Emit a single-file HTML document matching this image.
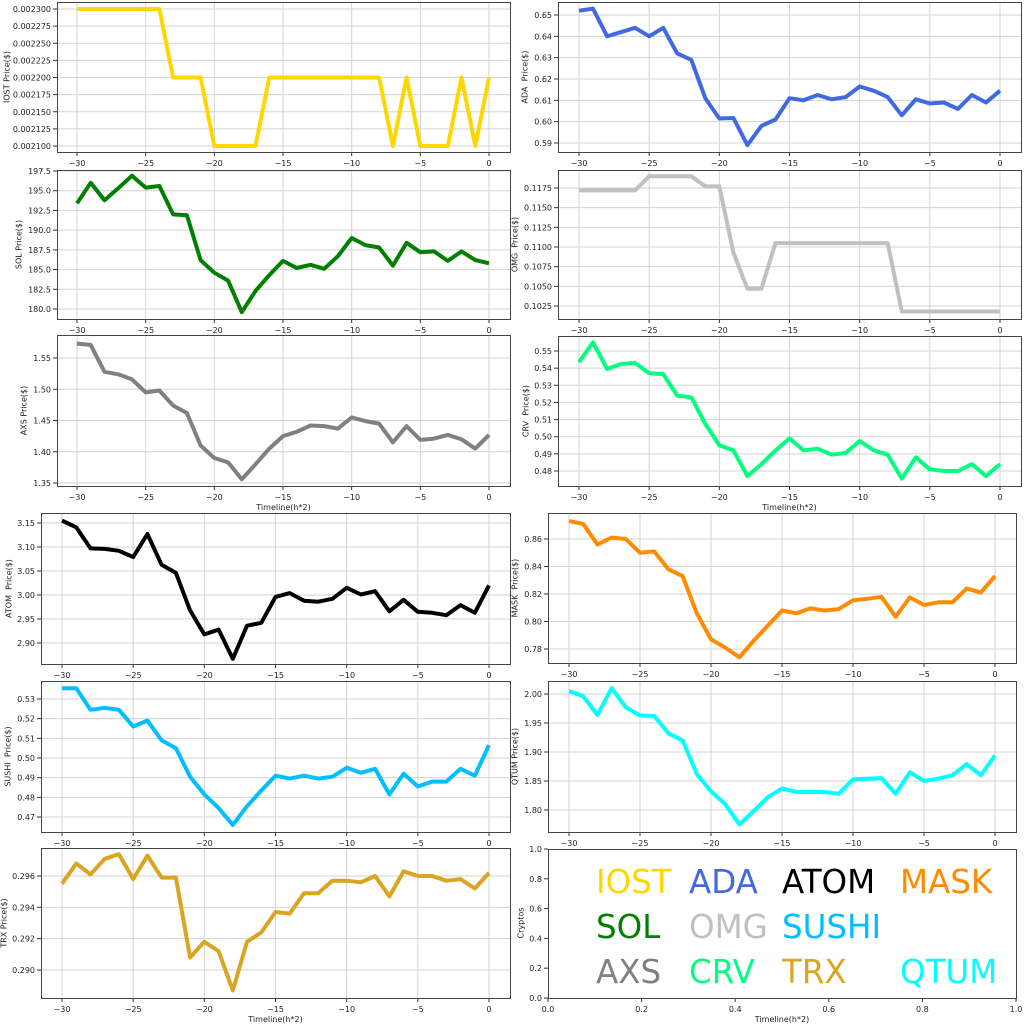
<!DOCTYPE html>
<html><head><meta charset="utf-8"><style>
html,body{margin:0;padding:0;background:#fff}
svg text{font-family:"DejaVu Sans","Liberation Sans",sans-serif;fill:#222}
</style></head><body>
<svg id="s" width="1024" height="1024" xmlns="http://www.w3.org/2000/svg"></svg>
<script>
const NS="http://www.w3.org/2000/svg";const S=document.getElementById('s');
const FS=8;
function el(t,a,txt){const e=document.createElementNS(NS,t);for(const k in a)e.setAttribute(k,a[k]);if(txt!==undefined)e.textContent=txt;S.appendChild(e);return e;}
const XL=["\u221230","\u221225","\u221220","\u221215","\u221210","\u22125","0"];
function rng(a,b,st,d){const r=[];for(let v=a;v<=b+st/100;v+=st)r.push([v,v.toFixed(d)]);return r;}
const P=[
{b:[57,2,510,152],xt:[77,489],ym:[0.0023,9,0.0021,146],yt:rng(0.0021,0.0023,0.000025,6),yl:"IOST Price($)",lx:7,c:"#FFD700",
d:[.0023,.0023,.0023,.0023,.0023,.0023,.0023,.0022,.0022,.0022,.0021,.0021,.0021,.0021,.0022,.0022,.0022,.0022,.0022,.0022,.0022,.0022,.0022,.0021,.0022,.0021,.0021,.0021,.0022,.0021,.0022]},
{b:[57,170,510,319],xt:[77,489],ym:[197.5,171,180,309],yt:rng(180,197.5,2.5,1),yl:"SOL Price($)",lx:19,c:"#008000",
d:[193.4,196.0,193.8,195.3,196.9,195.4,195.6,192.0,191.9,186.2,184.6,183.6,179.6,182.3,184.3,186.1,185.2,185.6,185.1,186.7,189.0,188.1,187.8,185.5,188.4,187.2,187.3,186.1,187.3,186.2,185.8]},
{b:[558,2,1021,152],xt:[579,1000],ym:[0.65,15,0.59,143],yt:rng(0.59,0.65,0.01,2),yl:"ADA  Price($)",lx:525,c:"#4169E1",
d:[.652,.653,.640,.642,.644,.640,.644,.632,.629,.611,.6015,.6017,.589,.598,.601,.611,.610,.6125,.6105,.6115,.6165,.6145,.6115,.603,.6105,.6085,.609,.606,.6125,.609,.6145]},
{b:[558,170,1021,319],xt:[579,1000],ym:[0.1175,188,0.1025,306],yt:rng(0.1025,0.1175,0.0025,4),yl:"OMG  Price($)",lx:515,c:"#C0C0C0",
d:[.1172,.1172,.1172,.1172,.1172,.1190,.1190,.1190,.1190,.1177,.1177,.1093,.1047,.1047,.1105,.1105,.1105,.1105,.1105,.1105,.1105,.1105,.1105,.1018,.1018,.1018,.1018,.1018,.1018,.1018,.1018]},
{b:[57,335,510,486],xt:[77,489],ym:[1.55,358,1.35,483],yt:rng(1.35,1.55,0.05,2),yl:"AXS Price($)",lx:24,c:"#808080",xlab:507,
d:[1.573,1.571,1.528,1.524,1.516,1.495,1.498,1.474,1.462,1.410,1.390,1.383,1.356,1.380,1.405,1.425,1.432,1.442,1.441,1.437,1.455,1.449,1.445,1.415,1.441,1.419,1.421,1.427,1.420,1.405,1.427]},
{b:[558,336,1021,486],xt:[579,1000],ym:[0.55,351,0.48,471],yt:rng(0.48,0.55,0.01,2),yl:"CRV  Price($)",lx:526,c:"#00FF7F",xlab:507,
d:[.5435,.555,.5395,.5425,.543,.537,.5365,.524,.523,.5075,.495,.492,.477,.484,.492,.499,.492,.493,.4895,.4905,.4975,.492,.4895,.4755,.488,.481,.480,.480,.484,.477,.484]},
{b:[41,513,510,664],xt:[62,489],ym:[3.15,523,2.90,643],yt:rng(2.90,3.15,0.05,2),yl:"ATOM  Price($)",lx:9,c:"#000000",
d:[3.155,3.141,3.097,3.096,3.092,3.079,3.127,3.063,3.046,2.968,2.918,2.928,2.867,2.936,2.942,2.996,3.004,2.988,2.986,2.992,3.015,3.001,3.008,2.966,2.990,2.965,2.963,2.958,2.979,2.963,3.020]},
{b:[548,513,1016,663],xt:[569,995],ym:[0.86,539,0.78,649],yt:rng(0.78,0.86,0.02,2),yl:"MASK  Price($)",lx:515,c:"#FF8C00",
d:[.873,.871,.856,.861,.860,.850,.851,.838,.833,.806,.787,.781,.774,.786,.797,.808,.806,.8095,.808,.809,.8155,.8165,.818,.8035,.8175,.812,.814,.814,.824,.821,.833]},
{b:[41,681,510,832],xt:[62,489],ym:[0.53,699,0.47,817],yt:rng(0.47,0.53,0.01,2),yl:"SUSHI  Price($)",lx:8,c:"#00BFFF",
d:[.5355,.5355,.5245,.5255,.5245,.516,.519,.509,.505,.4905,.4815,.4745,.466,.4755,.4835,.491,.4895,.491,.4895,.4905,.495,.4925,.4945,.4815,.492,.4855,.488,.488,.4945,.491,.5065]},
{b:[548,681,1016,832],xt:[569,995],ym:[2.00,694,1.80,810],yt:rng(1.80,2.00,0.05,2),yl:"QTUM Price($)",lx:515,c:"#00FFFF",
d:[2.005,1.996,1.964,2.010,1.977,1.963,1.962,1.932,1.920,1.862,1.832,1.810,1.775,1.798,1.822,1.837,1.831,1.831,1.831,1.828,1.853,1.854,1.855,1.828,1.865,1.850,1.854,1.860,1.879,1.860,1.894]},
{b:[41,848,510,998],xt:[62,489],ym:[0.296,876,0.290,970],yt:rng(0.290,0.296,0.002,3),yl:"TRX Price($)",lx:4,c:"#DAA520",xlab:1019,
d:[.2955,.2968,.2961,.2971,.2974,.2958,.2973,.2959,.2959,.2908,.2918,.2912,.2887,.2918,.2924,.2937,.2936,.2949,.2949,.2957,.2957,.2956,.2960,.2947,.2963,.2960,.2960,.2957,.2958,.2952,.2962]}
];
function frame(b){el('rect',{x:b[0]+.5,y:b[1]+.5,width:b[2]-b[0],height:b[3]-b[1],fill:'none',stroke:'#444','stroke-width':1});}
for(const p of P){
 const [x0,y0,x1,y1]=p.b;const sx=(p.xt[1]-p.xt[0])/30;
 const X=i=>p.xt[0]+(i+30)*sx;const Y=v=>p.ym[1]+(v-p.ym[0])*(p.ym[3]-p.ym[1])/(p.ym[2]-p.ym[0]);
 for(let k=0;k<7;k++){const x=X(-30+5*k);el('line',{x1:x,x2:x,y1:y0,y2:y1,stroke:'#d3d3d3','stroke-width':1});
  el('line',{x1:x,x2:x,y1:y1,y2:y1+4,stroke:'#333'});el('text',{x:x,y:y1+14,'text-anchor':'middle','font-size':FS},XL[k]);}
 for(const [v,l] of p.yt){const y=Y(v);el('line',{x1:x0,x2:x1,y1:y,y2:y,stroke:'#d3d3d3','stroke-width':1});
  el('line',{x1:x0-4,x2:x0,y1:y,y2:y,stroke:'#333'});el('text',{x:x0-6,y:y+3,'text-anchor':'end','font-size':FS},l);}
 let pts=p.d.map((v,i)=>X(i-30).toFixed(1)+','+Y(v).toFixed(1)).join(' ');
 el('polyline',{points:pts,fill:'none',stroke:p.c,'stroke-width':4,'stroke-linejoin':'round'});
 frame(p.b);
 const cy=(y0+y1)/2;el('text',{x:p.lx,y:cy,'font-size':FS,'text-anchor':'middle',transform:`rotate(-90 ${p.lx} ${cy})`,style:'white-space:pre','dominant-baseline':'central'},p.yl);
 if(p.xlab)el('text',{x:(x0+x1)/2,y:p.xlab+3,'text-anchor':'middle','font-size':FS},"Timeline(h*2)");
}
const b=[548,849,1016,998];
for(let k=0;k<=5;k++){const x=b[0]+(b[2]-b[0])*k/5;el('line',{x1:x,x2:x,y1:b[3],y2:b[3]+4,stroke:'#333'});
 el('text',{x:x,y:b[3]+14,'text-anchor':'middle','font-size':FS},["0.0","0.2","0.4","0.6","0.8","1.0"][k]);
 const y=b[3]-(b[3]-b[1])*k/5;el('line',{x1:b[0]-4,x2:b[0],y1:y,y2:y,stroke:'#333'});
 el('text',{x:b[0]-6,y:y+3,'text-anchor':'end','font-size':FS},["0.0","0.2","0.4","0.6","0.8","1.0"][k]);}
frame(b);
el('text',{x:521,y:923,'font-size':FS,'text-anchor':'middle',transform:'rotate(-90 521 923)','dominant-baseline':'central'},"Cryptos");
el('text',{x:782,y:1022,'text-anchor':'middle','font-size':FS},"Timeline(h*2)");
const L=[["IOST",596,893,"#FFD700"],["ADA",689,893,"#4169E1"],["ATOM",782,893,"#000000"],["MASK",900,893,"#FF8C00"],
["SOL",596,938,"#008000"],["OMG",689,938,"#C0C0C0"],["SUSHI",782,938,"#00BFFF"],
["AXS",596,983,"#808080"],["CRV",689,983,"#00FF7F"],["TRX",782,983,"#DAA520"],["QTUM",900,983,"#00FFFF"]];
for(const [t,x,y,c] of L){const e=el('text',{x:x,y:y,'font-size':32.5},t);e.style.fill=c;}
</script>
</body></html>
